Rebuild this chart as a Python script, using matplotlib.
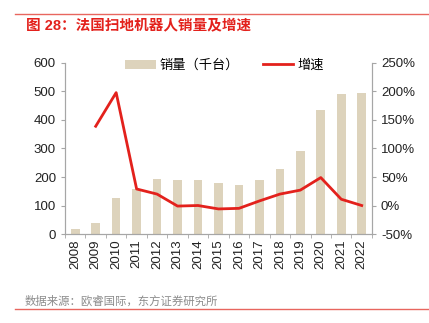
import numpy as np
import matplotlib
matplotlib.use('Agg')
from matplotlib import pyplot
from matplotlib.ticker import FuncFormatter, FixedLocator

pyplot.rcParams['font.family'] = ['Liberation Sans', 'Noto Sans CJK SC', 'DejaVu Sans']

years = ['2008', '2009', '2010', '2011', '2012', '2013', '2014', '2015',
         '2016', '2017', '2018', '2019', '2020', '2021', '2022']
sales = [17, 40, 125, 158, 192, 189, 189, 179, 172, 189, 228, 291, 435, 490, 493]
growth = [np.nan, 139, 198, 29, 20, -1, 0, -6, -5, 8, 20, 27, 49, 11, 0]

bar_color = '#DDD3BC'
line_color = '#E3211C'
axis_grey = '#A6A6A6'

fig = pyplot.figure(figsize=(4.29, 3.23), dpi=100)
ax = fig.add_axes([0.1515, 0.2755, 0.7155, 0.5295])
ax2 = ax.twinx()

x = np.arange(len(years))
ax.bar(x, sales, width=0.42, color=bar_color, label='销量（千台）', zorder=2)
ax2.plot(x, growth, color=line_color, linewidth=2, label='增速', zorder=3)

ax.set_xlim(-0.5, len(years) - 0.5)
ax.set_ylim(0, 600)
ax.set_yticks(range(0, 601, 100))
ax2.set_ylim(-50, 250)
ax2.set_yticks(range(-50, 251, 50))
ax2.yaxis.set_major_formatter(FuncFormatter(lambda v, p: '%d%%' % v))

ax.set_xticks(x)
ax.set_xticklabels(years, rotation=90)
ax.xaxis.set_minor_locator(FixedLocator(np.arange(-0.5, len(years), 1)))
ax.tick_params(axis='x', which='major', length=0, pad=4, labelsize=9.5, colors='#222222')
ax.tick_params(axis='x', which='minor', length=3, color=axis_grey, direction='out')
ax.tick_params(axis='y', length=3, color=axis_grey, labelsize=9.5, labelcolor='#222222')
ax2.tick_params(axis='y', length=3, color=axis_grey, labelsize=9.5, labelcolor='#222222')

for a in (ax, ax2):
    a.spines['top'].set_visible(False)
    for s in ('left', 'right', 'bottom'):
        a.spines[s].set_color(axis_grey)
        a.spines[s].set_linewidth(0.8)

h1, l1 = ax.get_legend_handles_labels()
h2, l2 = ax2.get_legend_handles_labels()
ax.legend(h1 + h2, l1 + l2, loc='upper center', bbox_to_anchor=(0.52, 1.09),
          ncol=2, frameon=False, fontsize=9.5, handlelength=2.3,
          columnspacing=1.8, handletextpad=0.3)

# title and source
fig.add_artist(pyplot.Line2D([0.036, 0.997], [0.957, 0.957], color='#E8665F', linewidth=1))
fig.text(0.06, 0.921, '图 28：法国扫地机器人销量及增速', color='#E3211C',
         fontsize=10.5, fontweight='bold', va='center', ha='left')
fig.text(0.057, 0.069, '数据来源：欧睿国际，东方证券研究所', color='#8C8C8C',
         fontsize=8.2, va='center', ha='left')
fig.add_artist(pyplot.Line2D([0.036, 0.997], [0.042, 0.042], color='#E8665F', linewidth=1))

pyplot.savefig('out.png', dpi=100)
